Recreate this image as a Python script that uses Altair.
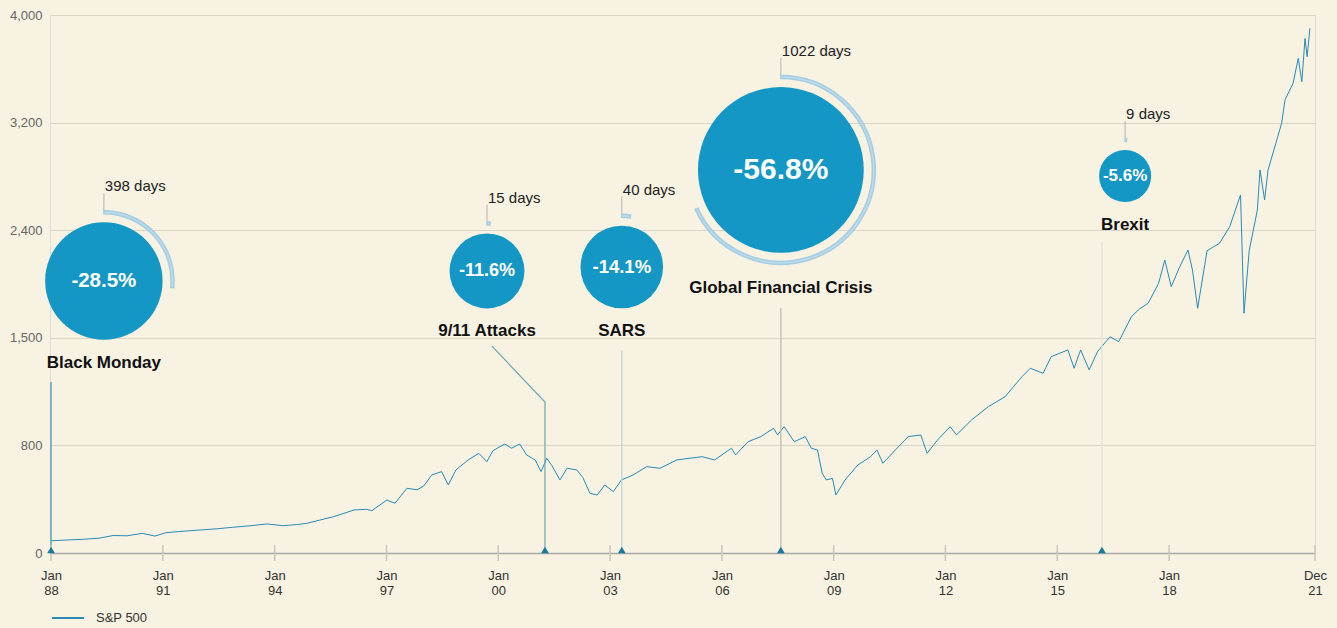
import altair as alt
import pandas as pd

# ---------------------------------------------------------------------------
# S&P 500 index level (month-ish sampling)
# ---------------------------------------------------------------------------
dates = [
    "1988-01-04", "1988-06-15", "1988-11-15", "1989-04-15", "1989-09-01",
    "1990-01-15", "1990-06-15", "1990-10-15", "1991-02-01", "1991-06-15",
    "1991-12-31", "1992-06-15", "1992-11-15", "1993-05-15", "1993-10-15",
    "1994-03-25", "1994-08-15", "1994-11-15", "1995-03-20", "1995-08-01",
    "1995-11-10", "1996-02-20", "1996-06-20", "1996-08-10", "1997-01-05",
    "1997-03-25", "1997-07-20", "1997-10-28", "1998-01-01", "1998-03-20",
    "1998-06-25", "1998-08-30", "1998-11-12", "1999-03-12", "1999-06-25",
    "1999-09-12", "1999-11-10", "2000-03-05", "2000-05-10", "2000-07-30",
    "2000-10-05", "2000-12-28", "2001-02-24", "2001-04-20", "2001-06-10",
    "2001-08-28", "2001-11-05", "2002-02-10", "2002-04-10", "2002-06-18",
    "2002-08-28", "2002-11-10", "2003-02-02", "2003-04-22", "2003-08-15",
    "2003-12-25", "2004-05-05", "2004-10-15", "2005-06-20", "2005-10-22",
    "2006-04-05", "2006-05-15", "2006-09-15", "2007-01-18", "2007-05-22",
    "2007-07-01", "2007-09-02", "2007-12-12", "2008-03-28", "2008-05-26",
    "2008-07-26", "2008-09-10", "2008-10-20", "2008-12-20", "2009-01-22",
    "2009-04-22", "2009-08-25", "2009-12-28", "2010-02-28", "2010-04-28",
    "2010-08-28", "2011-01-01", "2011-05-05", "2011-07-05", "2011-10-15",
    "2012-02-17", "2012-04-18", "2012-09-12", "2013-02-25", "2013-08-08",
    "2014-01-20", "2014-04-12", "2014-08-15", "2014-11-02", "2015-04-15",
    "2015-06-15", "2015-08-18", "2015-11-10", "2016-01-30", "2016-06-02",
    "2016-08-25", "2016-12-28", "2017-03-15", "2017-06-10", "2017-09-20",
    "2017-11-20", "2018-01-22", "2018-04-15", "2018-07-05", "2018-08-18",
    "2018-10-08", "2019-01-08", "2019-03-10", "2019-05-10", "2019-08-18",
    "2019-12-02", "2020-01-05", "2020-02-25", "2020-05-15", "2020-06-10",
    "2020-07-25", "2020-08-28", "2021-01-08", "2021-02-10", "2021-04-30",
    "2021-06-20", "2021-07-25", "2021-08-25", "2021-09-15", "2021-10-12",
]
index_level = [
    91, 97, 102, 110, 130,
    128, 146, 126, 151, 160,
    171, 180, 191, 203, 216,
    203, 212, 221, 245, 270,
    295, 320, 325, 315, 394,
    370, 481, 470, 498, 580,
    605, 506, 617, 692, 741,
    679, 761, 809, 779, 809,
    729, 692, 605, 704, 650,
    543, 630, 617, 560, 444,
    431, 506, 456, 543, 580,
    642, 630, 692, 716, 692,
    779, 729, 824, 857, 911,
    868, 922, 824, 857, 779,
    766, 593, 543, 555, 431,
    543, 654, 716, 766, 667,
    766, 857, 868, 741, 835,
    922, 868, 965, 1052, 1117,
    1247, 1302, 1269, 1377, 1421,
    1302, 1421, 1291, 1410, 1509,
    1475, 1677, 1740, 1789, 1956,
    2150, 1928, 2094, 2234, 2067,
    1747, 2228, 2260, 2290, 2426,
    2662, 1705, 2228, 2550, 2848,
    2625, 2848, 3195, 3369, 3492,
    3678, 3504, 3826, 3690, 3901,
]

# ---------------------------------------------------------------------------
# Market shocks: peak-to-trough drawdown and days to recover
# ---------------------------------------------------------------------------
events = ["Black Monday", "9/11 Attacks", "SARS", "Global Financial Crisis", "Brexit"]
event_dates = ["1988-01-01", "2001-04-03", "2003-04-26", "2007-08-02", "2016-03-14"]
drawdown_pct = [-28.5, -11.6, -14.1, -56.8, -5.6]
recovery_days = [398, 15, 40, 1022, 9]

# Callout placement (date, index level) for each bubble and its leader line
bubble_dates = ["1989-06-02", "1999-09-13", "2003-04-26", "2007-08-02", "2016-10-27"]
bubble_levels = [1975, 2059, 2092, 2848, 2803]
leader_knee = [1212, 1082, 1421, 1749, 2304]
leader_end_dates = ["1988-01-01", "1999-10-30", "2003-04-26", "2007-08-02", "2016-03-14"]
leader_top = [1212, 1447, 1421, 1749, 2304]
leader_colors = ["#3f8db0", "#6fa6b5", "#bcd5d6", "#b8b8b2", "#dfe2d8"]

# Axis ticks
y_ticks = [0, 800, 1500, 2400, 3200, 4000]
x_tick_dates = ["1988-01-01", "1991-01-01", "1994-01-01", "1997-01-01", "2000-01-01",
                "2003-01-01", "2006-01-01", "2009-01-01", "2012-01-01", "2015-01-01",
                "2018-01-01", "2021-12-01"]

# ---------------------------------------------------------------------------
W, H = 1265, 538
BG = "#f7f2e2"
LINE = "#2a8ab5"
BUBBLE = "#1597c5"
FONT = "Liberation Sans"

series = pd.DataFrame({"date": dates, "level": index_level, "series": "S&P 500"})

shocks = pd.DataFrame({
    "event": events,
    "event_date": event_dates,
    "pct": drawdown_pct,
    "days": recovery_days,
    "bx": bubble_dates,
    "by": bubble_levels,
    "zero": 0,
})
shocks["label"] = [f"{p:.1f}%" for p in drawdown_pct]
shocks["days_label"] = [f"{d} days" for d in recovery_days]

leader_rows = []
for i, ev in enumerate(events):
    leader_rows += [
        {"event": ev, "k": 0, "date": event_dates[i], "level": 0},
        {"event": ev, "k": 1, "date": event_dates[i], "level": leader_knee[i]},
        {"event": ev, "k": 2, "date": leader_end_dates[i], "level": leader_top[i]},
    ]
leaders = pd.DataFrame(leader_rows)

ticks = pd.DataFrame({"date": x_tick_dates})

x_scale = alt.Scale(
    type="utc",
    domain=[alt.DateTime(year=1987, month=12, date=22, utc=True),
            alt.DateTime(year=2021, month=12, date=1, utc=True)],
)
# evenly spaced, uneven-valued gridlines: piecewise linear scale
y_scale = alt.Scale(
    domain=y_ticks,
    range=[H - i * H / 5 for i in range(6)],
    nice=False,
)

x_axis = alt.Axis(
    values=[alt.DateTime(year=int(d[:4]), month=int(d[5:7]), date=1, utc=True) for d in x_tick_dates],
    labelExpr="[utcFormat(datum.value, '%b'), utcFormat(datum.value, '%y')]",
    title=None, grid=False, ticks=False,
    domainColor="#a9a9a5", domainWidth=1.5,
    labelPadding=16, labelLineHeight=15, labelFontSize=13, labelColor="#333333",
    labelOverlap=False, labelFlush=False,
)
y_axis = alt.Axis(
    values=y_ticks, labelExpr="format(datum.value, ',')", title=None, grid=True,
    gridColor="#d9d5c7", ticks=False, domain=False, labelPadding=8, labelFontSize=13,
    labelColor="#666666",
)

X = alt.X("date:T", scale=x_scale, axis=x_axis)
Y = alt.Y("level:Q", scale=y_scale, axis=y_axis)

line = alt.Chart(series).mark_line(strokeWidth=1).encode(
    x=X, y=Y,
    color=alt.Color("series:N", scale=alt.Scale(domain=["S&P 500"], range=[LINE]),
                    legend=alt.Legend(orient="none", legendX=1, legendY=586, title=None,
                                      symbolType="stroke", symbolSize=1024,
                                      symbolStrokeWidth=2, labelFontSize=13,
                                      labelColor="#333333", labelOffset=11)),
)

leader_lines = alt.Chart(leaders).mark_line(strokeWidth=1.2).encode(
    x=alt.X("date:T"), y=alt.Y("level:Q"), order="k:Q",
    stroke=alt.Stroke("event:N", scale=alt.Scale(domain=events, range=leader_colors),
                      legend=None),
    detail="event:N",
)

tick_marks = alt.Chart(ticks).mark_rule(color="#c9c6bb", strokeWidth=1.5).encode(
    x=alt.X("date:T"), y=alt.value(H - 8), y2=alt.value(H + 8),
)

# bubble radius grows with the square root of the drawdown (area ~ drawdown)
base = alt.Chart(shocks).transform_calculate(
    r="11 * sqrt(abs(datum.pct))",
).transform_calculate(
    sym_size="4 * datum.r * datum.r",
    r_out="datum.r + 11.5",
    r_in="datum.r + 8.5",
    a0="0",
    a1="datum.days / 1500 * 2 * PI",
    name_off="datum.r + 23 + (datum.days > 750 ? 12 : 0)",
    days_off="-(datum.r + 36)",
    stem_off="-(datum.r + 20.5)",
    pct_abs="abs(datum.pct)",
)

markers = alt.Chart(shocks).mark_point(
    shape="triangle-up", filled=True, color="#17799b", size=60, opacity=1, yOffset=-3,
).encode(x=alt.X("event_date:T"), y=alt.Y("zero:Q"))

bx = alt.X("bx:T")
by = alt.Y("by:Q")

arcs = base.mark_arc(fill="#bcdbea", stroke="#a6cde1", strokeWidth=1.5).encode(
    x=bx, y=by,
    theta=alt.Theta("a0:Q", scale=None, stack=False),
    theta2=alt.Theta2("a1:Q"),
    radius=alt.Radius("r_out:Q", scale=None),
    radius2=alt.Radius2("r_in:Q"),
)

bubbles = base.mark_circle(color=BUBBLE, opacity=1).encode(
    x=bx, y=by, size=alt.Size("sym_size:Q", scale=None),
)

pct_text = base.mark_text(color="white", fontWeight="bold", baseline="middle").encode(
    x=bx, y=by, text="label:N",
    size=alt.Size("pct_abs:Q", scale=alt.Scale(domain=[5.6, 14.1, 28.5, 56.8],
                                               range=[17, 18.5, 20.5, 30], nice=False),
                  legend=None),
)

name_text = base.mark_text(fontWeight="bold", fontSize=17, color="#111111",
                           baseline="middle",
                           dy=alt.ExprRef(expr="datum.name_off")).encode(
    x=bx, y=by, text="event:N",
)

days_text = base.mark_text(fontSize=15, color="#222222", align="left",
                           baseline="middle", dx=1,
                           dy=alt.ExprRef(expr="datum.days_off")).encode(
    x=bx, y=by, text="days_label:N",
)

days_stem = base.mark_tick(orient="vertical", thickness=1, size=17, color="#9a9a9a",
                           yOffset=alt.ExprRef(expr="datum.stem_off")).encode(
    x=bx, y=by,
)

chart = alt.layer(
    line, leader_lines, tick_marks, markers, arcs, bubbles, pct_text, name_text,
    days_stem, days_text,
).resolve_scale(
    size="independent",
).properties(
    width=W, height=H,
    padding={"left": 50, "top": 15, "right": 22, "bottom": 75},
    autosize=alt.AutoSizeParams(type="none"),
    background=BG,
).configure_view(
    stroke=None,
).configure(
    font=FONT,
)

chart.save("out.html", embed_options={"renderer": "svg", "actions": False})
